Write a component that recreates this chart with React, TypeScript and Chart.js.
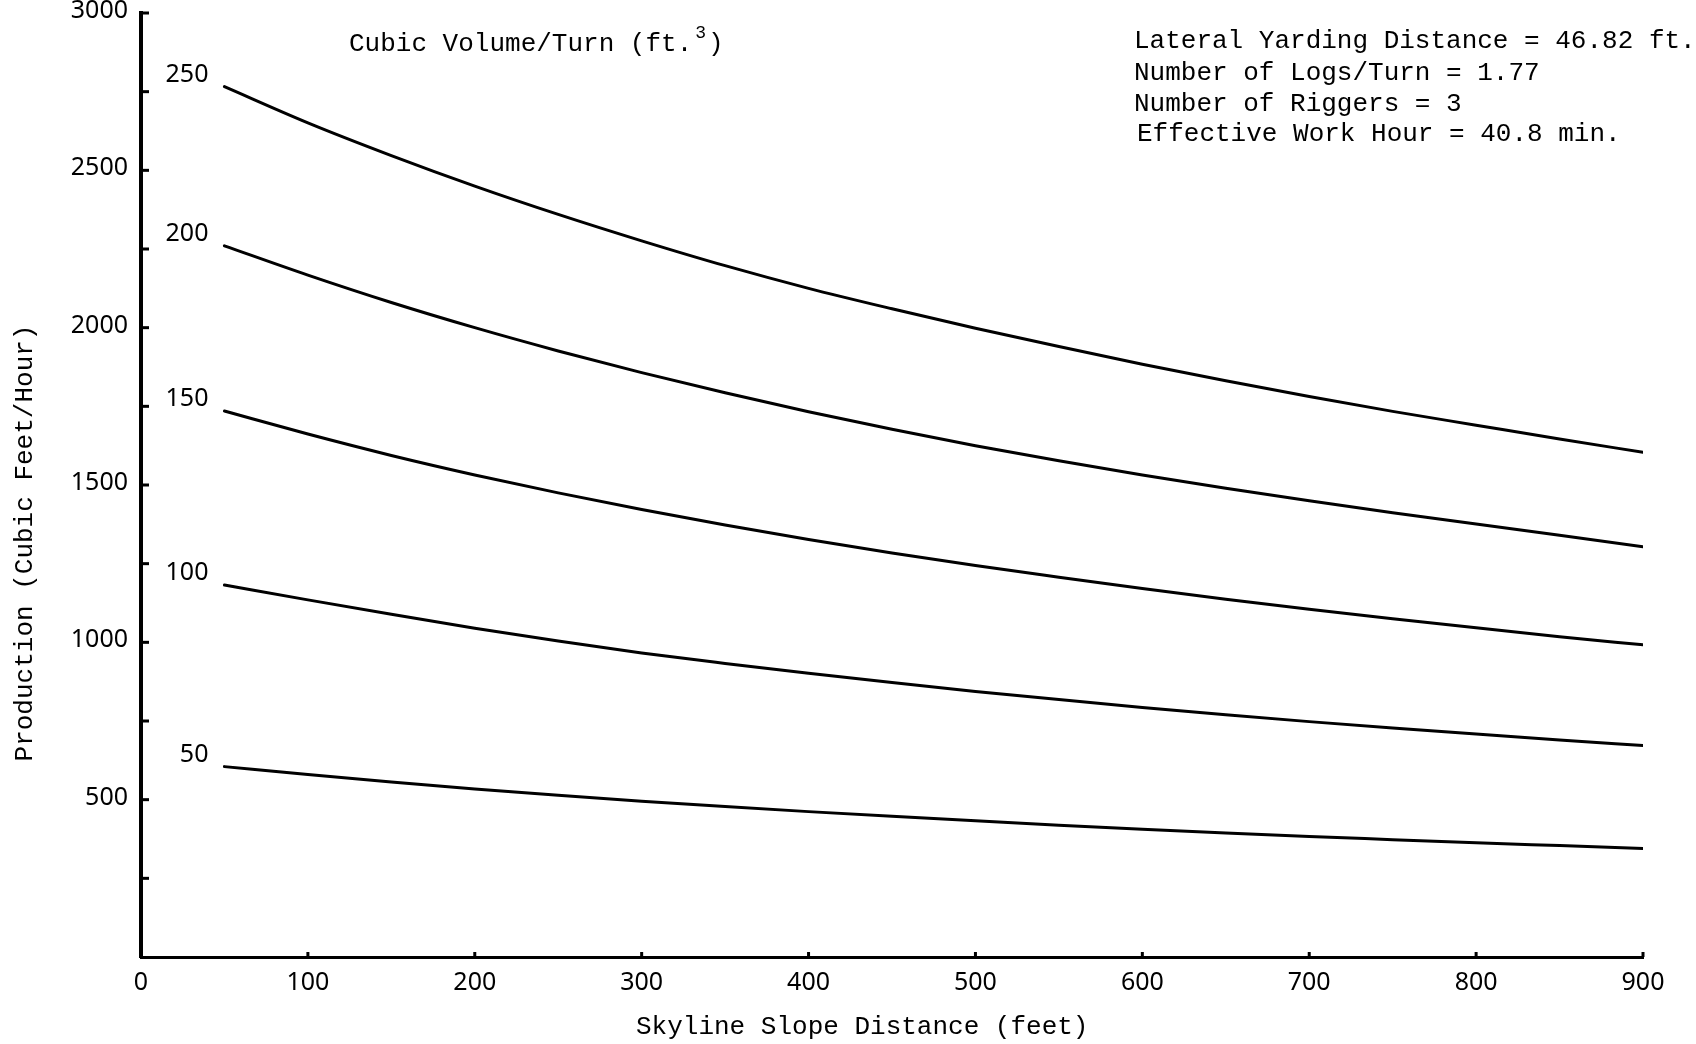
import React, { useEffect, useRef } from "react";
import { Chart, registerables } from "chart.js";

Chart.register(...registerables);

// Skyline slope distance (feet) at which each production value is read
const distances = [50, 100, 150, 200, 250, 300, 350, 400, 450, 500, 550, 600, 650, 700, 750, 800, 850, 900];

// Cubic volume per turn (ft.^3) for each curve
const volumeLabels = ["250", "200", "150", "100", "50"];

// Production (cubic feet/hour) per curve
const prod250 = [2766, 2651, 2547, 2450, 2360, 2276, 2197, 2125, 2060, 1998, 1940, 1884, 1831, 1781, 1734, 1690, 1646, 1604];
const prod200 = [2260, 2167, 2080, 2000, 1926, 1857, 1793, 1733, 1677, 1625, 1577, 1532, 1490, 1450, 1412, 1376, 1340, 1304];
const prod150 = [1735, 1662, 1594, 1532, 1475, 1422, 1373, 1327, 1284, 1244, 1207, 1171, 1137, 1105, 1075, 1046, 1018, 992];
const prod100 = [1182, 1135, 1089, 1045, 1004, 966, 933, 902, 872, 844, 818, 793, 770, 748, 728, 709, 690, 672];
const prod50 = [605, 580, 556, 534, 514, 495, 478, 462, 447, 433, 419, 406, 394, 383, 373, 363, 354, 345];

const productionSeries = [prod250, prod200, prod150, prod100, prod50];

// Axis ranges and tick spacing
const xMax = 900;
const xStep = 100;
const yMax = 3000;
const yStep = 250;
const yLabelEvery = 500;

// Text blocks
const xTitle = "Skyline Slope Distance (feet)";
const yTitle = "Production (Cubic Feet/Hour)";
const curveTitle = "Cubic Volume/Turn (ft.";
const curveTitleSup = "3";
const infoLines = [
  "Lateral Yarding Distance = 46.82 ft.",
  "Number of Logs/Turn = 1.77",
  "Number of Riggers = 3",
  "Effective Work Hour = 40.8 min.",
];

const W = 1696;
const H = 1044;
const INK = "#000";
const MONO = '"Liberation Mono", "DejaVu Sans Mono", monospace';
const SANS = '"Noto Sans", "DejaVu Sans", sans-serif';

const annotations = {
  id: "annotations",
  afterDraw(chart: any) {
    const { ctx, chartArea, scales } = chart;
    const xs = scales.x;
    const ys = scales.y;
    ctx.save();
    ctx.strokeStyle = INK;
    ctx.fillStyle = INK;

    // inward tick marks on both axes
    ctx.lineWidth = 3;
    ys.ticks.forEach((t: any) => {
      if (t.value === 0) return;
      const py = ys.getPixelForValue(t.value);
      ctx.beginPath();
      ctx.moveTo(chartArea.left, py);
      ctx.lineTo(chartArea.left + 8, py);
      ctx.stroke();
    });
    xs.ticks.forEach((t: any) => {
      if (t.value === 0) return;
      const px = xs.getPixelForValue(t.value);
      ctx.beginPath();
      ctx.moveTo(px, chartArea.bottom);
      ctx.lineTo(px, chartArea.bottom - 5);
      ctx.stroke();
    });

    // curve labels at the start of each line
    ctx.font = `25px ${SANS}`;
    ctx.textAlign = "right";
    ctx.textBaseline = "middle";
    chart.data.datasets.forEach((ds: any) => {
      const p = ds.data[0];
      const px = xs.getPixelForValue(p.x) - 16;
      const py = ys.getPixelForValue(p.y) - 12;
      ctx.fillText(ds.label, px, py);
    });

    // axis titles
    ctx.font = `26px ${MONO}`;
    ctx.textAlign = "left";
    ctx.textBaseline = "alphabetic";
    ctx.fillText(xTitle, 636, 1034);

    ctx.save();
    ctx.translate(32, 543);
    ctx.rotate(-Math.PI / 2);
    ctx.textAlign = "center";
    ctx.fillText(yTitle, 0, 0);
    ctx.restore();

    // curve family title with superscript
    ctx.font = `26px ${MONO}`;
    ctx.textAlign = "left";
    const cx = 349;
    ctx.fillText(curveTitle, cx, 51);
    const w1 = ctx.measureText(curveTitle).width;
    ctx.font = `18px ${MONO}`;
    ctx.fillText(curveTitleSup, cx + w1 + 3, 38);
    const w2 = ctx.measureText(curveTitleSup).width;
    ctx.font = `26px ${MONO}`;
    ctx.fillText(")", cx + w1 + w2 + 5, 51);

    // operating conditions
    const baseY = [48, 80, 111, 141];
    infoLines.forEach((line, i) => {
      ctx.fillText(line, i === 3 ? 1137 : 1134, baseY[i]);
    });

    ctx.restore();
  },
};

export default function App() {
  const canvasRef = useRef<HTMLCanvasElement | null>(null);

  useEffect(() => {
    const canvas = canvasRef.current;
    if (!canvas) return;

    const datasets = productionSeries.map((series, i) => ({
      label: volumeLabels[i],
      data: distances.map((d, j) => ({ x: d, y: series[j] })),
      borderColor: INK,
      borderWidth: 3,
      pointRadius: 0,
      cubicInterpolationMode: "monotone" as const,
      borderCapStyle: "round" as const,
      fill: false,
    }));

    const chart = new Chart(canvas, {
      type: "line",
      data: { datasets },
      plugins: [annotations],
      options: {
        animation: false,
        responsive: false,
        devicePixelRatio: 1,
        layout: { padding: { top: 13, right: 53, left: 0, bottom: 0 } },
        plugins: {
          legend: { display: false },
          tooltip: { enabled: false },
          title: { display: false },
        },
        scales: {
          x: {
            type: "linear",
            min: 0,
            max: xMax,
            grid: { display: false, drawTicks: false },
            border: { display: true, color: INK, width: 3 },
            ticks: {
              stepSize: xStep,
              autoSkip: false,
              maxRotation: 0,
              padding: 13,
              color: INK,
              font: { family: SANS, size: 25, lineHeight: 1 },
            },
            afterFit(scale: any) {
              scale.height = 87;
              scale.paddingLeft = 0;
              scale.paddingRight = 0;
            },
          },
          y: {
            type: "linear",
            min: 0,
            max: yMax,
            grid: { display: false, drawTicks: false },
            border: { display: true, color: INK, width: 4 },
            ticks: {
              stepSize: yStep,
              autoSkip: false,
              padding: 13,
              labelOffset: -2,
              color: INK,
              font: { family: SANS, size: 25, lineHeight: 1 },
              callback: (v: any) => (v > 0 && v % yLabelEvery === 0 ? String(v) : ""),
            },
            afterFit(scale: any) {
              scale.width = 141;
              scale.paddingTop = 0;
              scale.paddingBottom = 0;
            },
          },
        },
      },
    });

    return () => chart.destroy();
  }, []);

  return (
    <div style={{ position: "fixed", left: 0, top: 0, width: W, height: H, background: "#fff" }}>
      <canvas ref={canvasRef} width={W} height={H} style={{ width: W, height: H, display: "block" }} />
    </div>
  );
}
